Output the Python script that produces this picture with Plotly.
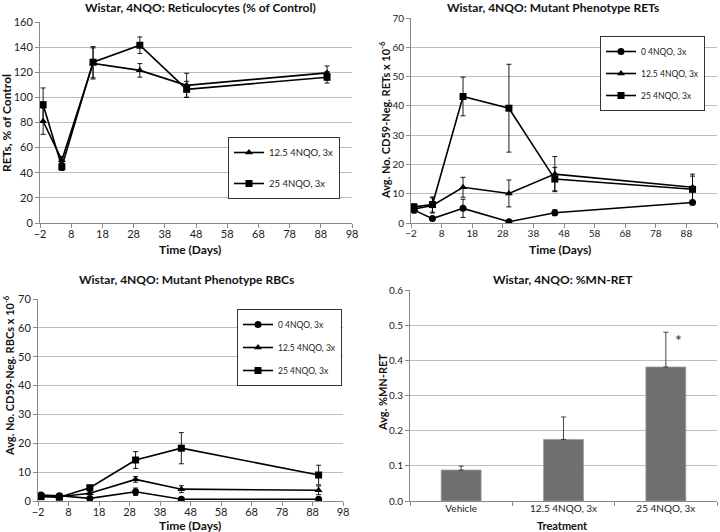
import plotly.graph_objects as go

W, H = 720, 532
FONT = "Lato"

days = [-1, 5, 15, 30, 45, 90]
series_names = ["0 4NQO, 3x", "12.5 4NQO, 3x", "25 4NQO, 3x"]
symbols = ["circle", "triangle-up", "square"]

# Panel 1: Reticulocytes (% of control)
ret_12 = [81, 50, 127, 121.5, 109.6, 119.5]
ret_12_err = [10.4, 3, 12.4, 5.4, 9.6, 5.5]
ret_25 = [94.2, 44.8, 128, 141.5, 106.4, 116]
ret_25_err = [13.3, 3, 12.4, 6.6, 6.4, 4.6]

# Panel 2: Mutant phenotype RETs
mret_0 = [4.4, 1.5, 5.0, 0.45, 3.5, 7.0]
mret_0_err = [1.0, 0.6, 3.1, 0.4, 1.0, 0.6]
mret_12 = [4.8, 6.0, 12.2, 10.1, 16.7, 12.2]
mret_12_err = [1.0, 2.6, 3.4, 4.6, 6.0, 4.5]
mret_25 = [5.5, 6.3, 43.2, 39.2, 15.0, 11.5]
mret_25_err = [1.0, 2.6, 6.6, 15.0, 4.0, 4.5]

# Panel 3: Mutant phenotype RBCs
mrbc_0 = [2.1, 1.8, 0.9, 3.2, 0.6, 0.6]
mrbc_0_err = [0.4, 0.4, 0.4, 1.3, 0.3, 0.3]
mrbc_12 = [1.8, 1.5, 2.7, 7.5, 4.1, 3.7]
mrbc_12_err = [0.4, 0.4, 0.5, 1.0, 1.2, 1.5]
mrbc_25 = [1.5, 1.3, 4.6, 14.2, 18.3, 9.0]
mrbc_25_err = [0.4, 0.4, 0.8, 2.9, 5.4, 3.4]

# Panel 4: %MN-RET
treatments = ["Vehicle", "12.5 4NQO, 3x", "25 4NQO, 3x"]
mn_ret = [0.088, 0.175, 0.381]
mn_ret_err = [0.011, 0.064, 0.099]
star_label = "*"

x_ticks = list(range(-2, 99, 10))


def dom_x(a, b):
    return [a / W, b / W]


def dom_y(top, bottom):
    return [1 - bottom / H, 1 - top / H]


fig = go.Figure()

line_style = dict(color="black", width=1.6)
err_style = dict(color="black", thickness=0.9, width=2.5)


def add_series(xaxis, yaxis, vals, errs, idx, legend):
    fig.add_trace(go.Scatter(
        x=days, y=vals, mode="lines+markers",
        name=series_names[idx],
        line=line_style,
        marker=dict(symbol=symbols[idx], size=7, color="black"),
        error_y=dict(type="data", array=errs, visible=True, **err_style),
        xaxis=xaxis, yaxis=yaxis, legend=legend,
        legendgroup=legend + str(idx),
    ))


add_series("x", "y", ret_12, ret_12_err, 1, "legend")
add_series("x", "y", ret_25, ret_25_err, 2, "legend")

add_series("x2", "y2", mret_0, mret_0_err, 0, "legend2")
add_series("x2", "y2", mret_12, mret_12_err, 1, "legend2")
add_series("x2", "y2", mret_25, mret_25_err, 2, "legend2")

add_series("x3", "y3", mrbc_0, mrbc_0_err, 0, "legend3")
add_series("x3", "y3", mrbc_12, mrbc_12_err, 1, "legend3")
add_series("x3", "y3", mrbc_25, mrbc_25_err, 2, "legend3")

fig.add_trace(go.Bar(
    x=treatments, y=mn_ret, marker=dict(color="#6f6f6f", line=dict(color="#9a9a9a", width=0.8)),
    error_y=dict(type="data", array=mn_ret_err, arrayminus=[0] * 3, symmetric=False,
                 visible=True, color="#333333", thickness=0.9, width=2.5),
    xaxis="x4", yaxis="y4", showlegend=False, width=0.39,
))

grid = "#bdbdbd"
axl = "#8a8a8a"


def time_axis(domain, anchor, size):
    return dict(domain=domain, anchor=anchor, range=[-2, 98], tickvals=x_ticks,
                showgrid=False, showline=True, linecolor=axl, linewidth=1,
                ticks="outside", ticklen=4, tickcolor=axl, zeroline=False,
                automargin=False, ticklabelstandoff=-3,
                tickfont=dict(size=size, color="#222222", family=FONT))


def val_axis(domain, anchor, rng, dtick, size, fmt=None):
    d = dict(domain=domain, anchor=anchor, range=rng, dtick=dtick, tick0=0,
             showgrid=True, gridcolor=grid, gridwidth=1, showline=True,
             linecolor=axl, linewidth=1, ticks="outside", ticklen=4, tickcolor=axl,
             zeroline=False, automargin=False,
             tickfont=dict(size=size, color="#222222", family=FONT))
    if fmt:
        d["tickformat"] = fmt
    return d


def legend_box(x1, y0, gap, size):
    return dict(x=x1 / W, y=1 - y0 / H, xanchor="right", yanchor="top",
                bgcolor="white", bordercolor="#333333", borderwidth=1,
                font=dict(size=size, family=FONT, color="#222222"),
                tracegroupgap=gap, itemwidth=30)


fig.update_layout(
    width=W, height=H, margin=dict(l=0, r=0, t=0, b=0, autoexpand=False),
    paper_bgcolor="white", plot_bgcolor="white",
    font=dict(family=FONT, color="#222222"),
    xaxis=time_axis(dom_x(40, 352), "y", 11),
    yaxis=val_axis(dom_y(22, 223), "x", [0, 160], 20, 11),
    xaxis2=time_axis(dom_x(411, 717), "y2", 10),
    yaxis2=val_axis(dom_y(18, 223), "x2", [0, 70], 10, 10),
    xaxis3=time_axis(dom_x(38, 343), "y3", 11),
    yaxis3=val_axis(dom_y(299, 501), "x3", [0, 70], 10, 11),
    xaxis4=dict(domain=dom_x(410, 717), anchor="y4", showline=True, linecolor=axl,
                ticks="outside", tickson="boundaries", ticklen=4, tickcolor=axl,
                automargin=False, ticklabelstandoff=-2,
                tickfont=dict(size=10, color="#222222", family=FONT)),
    yaxis4=val_axis(dom_y(290, 501), "x4", [0, 0.6], 0.1, 10, ".1f"),
    legend=legend_box(340, 137, 12, 9.5),
    legend2=legend_box(705, 36, 3, 8.5),
    legend3=legend_box(342, 309, 4, 8.5),
    showlegend=True,
)

ann = []


def text_at(px, py, txt, size, bold=False, angle=0):
    ann.append(dict(x=px / W, y=1 - py / H, xref="paper", yref="paper",
                    text=f"<b>{txt}</b>" if bold else txt, showarrow=False,
                    textangle=angle, xanchor="center", yanchor="middle",
                    font=dict(size=size, family=FONT, color="#111111")))


text_at(200, 7, "Wistar, 4NQO: Reticulocytes (% of Control)", 12, True)
text_at(553, 7, "Wistar, 4NQO: Mutant Phenotype RETs", 12, True)
text_at(186, 279, "Wistar, 4NQO: Mutant Phenotype RBCs", 12, True)
text_at(563, 279, "Wistar, 4NQO: %MN-RET", 12, True)

text_at(190, 249, "Time (Days)", 12, True)
text_at(560, 249, "Time (Days)", 12, True)
text_at(190, 525, "Time (Days)", 12, True)
text_at(562, 525, "Treatment", 11, True)

text_at(7, 123, "RETs, % of Control", 12, True, -90)
text_at(384, 120, "Avg. No. CD59-Neg. RETs x 10<sup>-6</sup>", 11, True, -90)
text_at(8, 376, "Avg. No. CD59-Neg. RBCs x 10<sup>-6</sup>", 11, True, -90)
text_at(382, 393, "Avg. %MN-RET", 11, True, -90)

ann.append(dict(x=treatments[2], y=mn_ret[2] + mn_ret_err[2] - 0.02, xref="x4", yref="y4",
                text=star_label, showarrow=False, xshift=13,
                font=dict(size=16, family=FONT, color="#222222")))

fig.update_layout(annotations=ann)
fig.write_html(
    "out.html",
    config={"displayModeBar": False},
    post_script="document.body.style.margin='0';document.body.style.overflow='hidden';",
)
